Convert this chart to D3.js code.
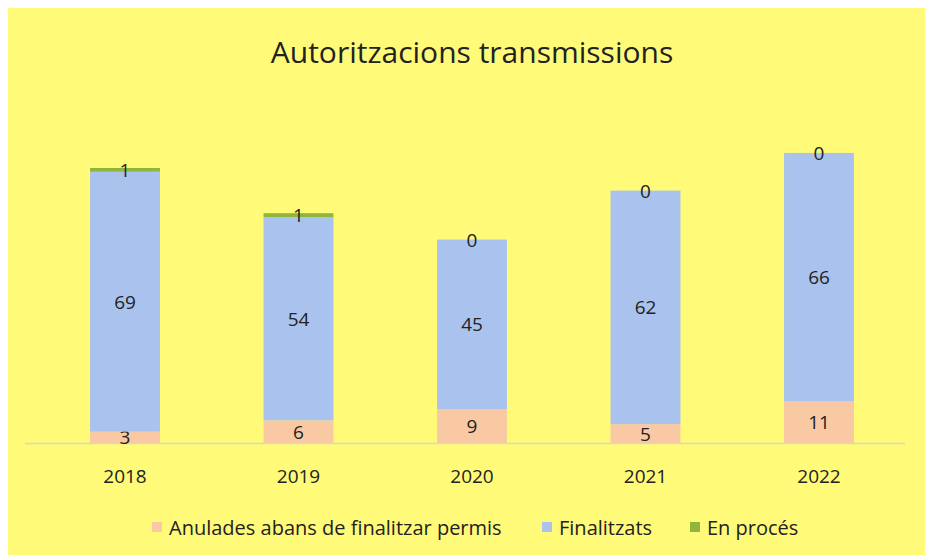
<!DOCTYPE html>
<html>
<head>
  <title>Autoritzacions transmissions</title>
  <script src="https://d3js.org/d3.v7.min.js"></script>
  <style>
    body { margin: 0; background: #fff; }
    text { font-family: "Open Sans", sans-serif; fill: #222; }
  </style>
</head>
<body>
<svg width="925" height="558"></svg>
<script>
  const years = ["2018", "2019", "2020", "2021", "2022"];
  const anulades = [3, 6, 9, 5, 11];
  const finalitzats = [69, 54, 45, 62, 66];
  const enProces = [1, 1, 0, 0, 0];
  const seriesNames = ["Anulades abans de finalitzar permis", "Finalitzats", "En procés"];
  const colors = ["#f8c9a2", "#a9c3ee", "#8fb53c"];

  const width = 925, height = 558;
  const svg = d3.select("svg");

  // yellow panel
  svg.append("rect")
    .attr("x", 8).attr("y", 8)
    .attr("width", width - 8).attr("height", height - 11)
    .attr("fill", "#fffb78");

  svg.append("text")
    .attr("x", 472).attr("y", 63)
    .attr("text-anchor", "middle")
    .style("font-size", "30px")
    .text("Autoritzacions transmissions");

  const table = years.map((y, i) => ({
    year: y, a: anulades[i], f: finalitzats[i], e: enProces[i]
  }));
  const stack = d3.stack().keys(["a", "f", "e"])(table);

  const x = d3.scaleBand().domain(years).range([38.25, 905.75])
    .paddingInner(0.597).paddingOuter(0.2985);
  const y = d3.scaleLinear().domain([0, 73]).range([443, 168]);

  // baseline
  svg.append("line")
    .attr("x1", 25).attr("x2", 905)
    .attr("y1", 443.5).attr("y2", 443.5)
    .attr("stroke", "#d8d8c8").attr("stroke-width", 1.5);

  const groups = svg.selectAll(".serie")
    .data(stack)
    .enter().append("g")
    .attr("class", "serie")
    .attr("fill", (d, i) => colors[i]);

  groups.selectAll("rect")
    .data(d => d)
    .enter().append("rect")
    .attr("x", d => x(d.data.year))
    .attr("width", x.bandwidth())
    .attr("y", d => y(d[1]))
    .attr("height", d => y(d[0]) - y(d[1]));

  groups.selectAll("text")
    .data((d, i) => d.map(v => ({ v: v, key: d.key })))
    .enter().append("text")
    .attr("x", d => x(d.v.data.year) + x.bandwidth() / 2)
    .attr("y", d => (y(d.v[0]) + y(d.v[1])) / 2 + 7)
    .attr("text-anchor", "middle")
    .style("font-size", "19px")
    .text(d => d.v.data[d.key]);

  // x axis labels
  svg.selectAll(".year")
    .data(years)
    .enter().append("text")
    .attr("class", "year")
    .attr("x", d => x(d) + x.bandwidth() / 2)
    .attr("y", 483)
    .attr("text-anchor", "middle")
    .style("font-size", "19px")
    .text(d => d);

  // legend
  const legendX = [152, 542, 690];
  const leg = svg.selectAll(".leg")
    .data(seriesNames)
    .enter().append("g")
    .attr("class", "leg")
    .attr("transform", (d, i) => "translate(" + legendX[i] + ",528)");
  leg.append("rect")
    .attr("x", 0).attr("y", -6)
    .attr("width", 10).attr("height", 10)
    .attr("fill", (d, i) => colors[i]);
  leg.append("text")
    .attr("x", 17).attr("y", 7)
    .style("font-size", "20px")
    .text(d => d);
</script>
</body>
</html>
